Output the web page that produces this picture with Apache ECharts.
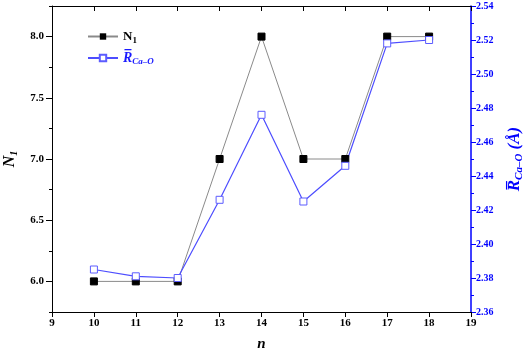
<!DOCTYPE html>
<html><head><meta charset="utf-8">
<script src="https://cdn.jsdelivr.net/npm/echarts@6/dist/echarts.min.js"></script>
<style>html,body{margin:0;padding:0;background:#fff}#c{width:526px;height:353px}</style>
</head><body><div id="c"></div>
<script>
var nValues = [10, 11, 12, 13, 14, 15, 16, 17, 18];
var n1Values = [6, 6, 6, 7, 8, 7, 7, 8, 8];
var rValues = [2.385, 2.381, 2.380, 2.426, 2.476, 2.425, 2.446, 2.518, 2.520];
var leftMajor = [6.0, 6.5, 7.0, 7.5, 8.0];
var leftMinor = [5.75, 6.25, 6.75, 7.25, 7.75, 8.25];

var F = '"Liberation Serif", "DejaVu Serif", serif';
var chart = echarts.init(document.getElementById('c'));
chart.setOption({
  animation: false,
  grid: {left: 52, right: 55, top: 6, bottom: 41, containLabel: false, outerBoundsMode: 'none'},
  legend: {
    orient: 'vertical', left: 82, top: 25, itemWidth: 30, itemHeight: 8, itemGap: 6,
    data: ['N1', 'R'],
    formatter: function (name) {
      return name === 'N1' ? '{n|N}{s|1}' : '{rb|R\u0305}{rs|Ca\u2013O}';
    },
    textStyle: {
      fontFamily: F,
      rich: {
        n: {fontFamily: F, fontWeight: 'bold', fontSize: 13, color: '#000'},
        s: {fontFamily: F, fontWeight: 'bold', fontSize: 9, color: '#000', padding: [8, 0, 0, 0]},
        rb: {fontFamily: F, fontWeight: 'bold', fontStyle: 'italic', fontSize: 14, color: '#1a1aff'},
        rs: {fontFamily: F, fontWeight: 'bold', fontStyle: 'italic', fontSize: 9, color: '#1a1aff', padding: [7, 0, 0, 0]}
      }
    }
  },
  xAxis: [{
    type: 'value', min: 9, max: 19, interval: 1, position: 'bottom',
    name: 'n', nameLocation: 'middle', nameGap: 25,
    nameTextStyle: {fontFamily: F, fontWeight: 'bold', fontStyle: 'italic', fontSize: 15, color: '#000'},
    axisLine: {show: true, lineStyle: {color: '#000', width: 1}},
    axisTick: {show: true, inside: false, length: 5, lineStyle: {color: '#000'}},
    axisLabel: {fontFamily: F, fontWeight: 'bold', fontSize: 11, color: '#000', margin: 6},
    splitLine: {show: false}
  }, {
    type: 'value', min: 9, max: 19, interval: 1, position: 'top',
    axisLine: {show: true, lineStyle: {color: '#000', width: 1}},
    axisTick: {show: true, inside: true, length: 5, lineStyle: {color: '#000'}},
    axisLabel: {show: false}, splitLine: {show: false}
  }],
  yAxis: [{
    type: 'value', min: 5.75, max: 8.25, position: 'left',
    name: '{n|N}{s|1}', nameLocation: 'middle', nameGap: 33, nameRotate: 90,
    nameTextStyle: {rich: {
      n: {fontFamily: F, fontWeight: 'bold', fontStyle: 'italic', fontSize: 16, color: '#000'},
      s: {fontFamily: F, fontWeight: 'bold', fontStyle: 'italic', fontSize: 10, color: '#000', padding: [8, 0, 0, 0]}
    }},
    axisLine: {show: true, lineStyle: {color: '#000', width: 1}},
    axisTick: {show: true, length: 6, customValues: leftMajor, lineStyle: {color: '#000'}},
    axisLabel: {customValues: leftMajor, fontFamily: F, fontWeight: 'bold', fontSize: 11, color: '#000', margin: 8,
      formatter: function (v) { return v.toFixed(1); }},
    splitLine: {show: false}
  }, {
    type: 'value', min: 2.36, max: 2.54, interval: 0.02, position: 'right',
    name: '{rb|R\u0305}{rs|Ca\u2013O}{rb| (\u00C5)}', nameLocation: 'middle', nameGap: 34, nameRotate: 90,
    nameTextStyle: {rich: {
      rb: {fontFamily: F, fontWeight: 'bold', fontStyle: 'italic', fontSize: 17, color: '#0000ff'},
      rs: {fontFamily: F, fontWeight: 'bold', fontStyle: 'italic', fontSize: 11, color: '#0000ff', padding: [9, 0, 0, 0]}
    }},
    axisLine: {show: true, lineStyle: {color: '#0000ff', width: 1.5}},
    axisTick: {show: true, length: 5, lineStyle: {color: '#0000ff'}},
    minorTick: {show: true, splitNumber: 2, length: 3, lineStyle: {color: '#0000ff'}},
    axisLabel: {fontFamily: F, fontWeight: 'bold', fontSize: 10, color: '#0000ff', margin: 5,
      formatter: function (v) { return v.toFixed(2); }},
    splitLine: {show: false}
  }, {
    type: 'value', min: 5.75, max: 8.25, position: 'left',
    axisLine: {show: false},
    axisTick: {show: true, length: 3, customValues: leftMinor, lineStyle: {color: '#000'}},
    axisLabel: {show: false}, splitLine: {show: false}
  }],
  series: [{
    name: 'N1', type: 'line', xAxisIndex: 0, yAxisIndex: 0,
    data: nValues.map(function (x, i) { return [x, n1Values[i]]; }),
    symbol: 'rect', symbolSize: 7,
    lineStyle: {color: '#8a8a8a', width: 1},
    itemStyle: {color: '#000', borderColor: '#000'}
  }, {
    name: 'R', type: 'line', xAxisIndex: 0, yAxisIndex: 1,
    data: nValues.map(function (x, i) { return [x, rValues[i]]; }),
    symbol: 'rect', symbolSize: 7,
    lineStyle: {color: '#4d4dff', width: 1.2},
    itemStyle: {color: '#fff', borderColor: '#5c5cff', borderWidth: 1}
  }]
});
</script></body></html>
